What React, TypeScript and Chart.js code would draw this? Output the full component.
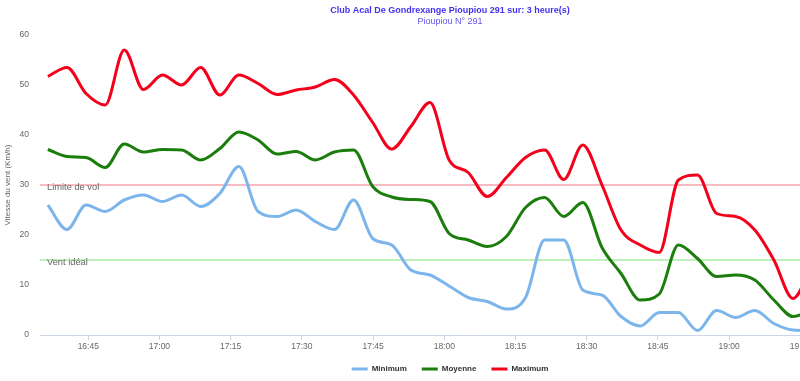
import { useEffect, useRef } from "react";
import { Chart, registerables } from "chart.js";

Chart.register(...registerables);

const FONT = '"Liberation Sans", Arial, Helvetica, sans-serif';

const chartTitle = "Club Acal De Gondrexange Pioupiou 291 sur: 3 heure(s)";
const chartSubtitle = "Pioupiou N° 291";
const yAxisTitle = "Vitesse du vent (Km/h)";

// measurement times (HH:MM:SS)
const times = [
  "16:36:29", "16:40:31", "16:44:32", "16:48:34", "16:52:35", "16:56:37",
  "17:00:38", "17:04:40", "17:08:41", "17:12:43", "17:16:44", "17:20:46",
  "17:24:47", "17:28:49", "17:32:50", "17:36:52", "17:40:53", "17:44:55",
  "17:48:56", "17:52:58", "17:56:59", "18:01:01", "18:05:02", "18:09:04",
  "18:13:05", "18:17:07", "18:21:08", "18:25:10", "18:29:11", "18:33:13",
  "18:37:14", "18:41:16", "18:45:17", "18:49:19", "18:53:20", "18:57:22",
  "19:01:23", "19:05:25", "19:09:26", "19:13:28", "19:17:29",
];

const minimum = [
  26, 21.1, 26, 24.7, 27, 28, 26.7, 28, 25.7, 28.3, 33.7, 24.7,
  23.7, 25, 22.7, 21.1, 27, 19.3, 18, 13, 12, 9.8, 7.5, 6.7,
  5.2, 7.5, 19, 19, 9, 8, 3.7, 1.8, 4.5, 4.5, 0.9, 4.9,
  3.5, 4.9, 2.3, 1, 0.9,
];

const moyenne = [
  37.1, 35.7, 35.5, 33.5, 38.2, 36.6, 37.1, 37, 35, 37.3, 40.6, 39,
  36.2, 36.7, 35, 36.6, 37, 29.7, 27.6, 27.1, 26.7, 20.3, 19, 17.7,
  19.7, 25.5, 27.5, 23.7, 26.5, 17.5, 12.3, 7, 8.2, 18, 15.3, 11.7,
  12, 11, 7, 3.7, 5,
];

const maximum = [
  51.7, 53.5, 48.3, 46, 57, 49.1, 52, 50, 53.5, 48, 52, 50.3,
  48.1, 49, 49.6, 51.1, 48, 42.5, 37.2, 41.7, 46.5, 35, 32.5, 27.7,
  31.5, 35.5, 37, 31.1, 38, 30, 21, 18, 16.5, 31, 32, 24.3,
  23.7, 21, 15, 7.3, 14,
];

const xTickLabels = [
  "16:45", "17:00", "17:15", "17:30", "17:45", "18:00", "18:15",
  "18:30", "18:45", "19:00", "19:15", "19:30",
];
const yTickValues = [0, 10, 20, 30, 40, 50, 60];

const xRangeStart = "16:34:50";
const xRangeEnd = "19:36:00";

const plotLines = [
  { value: 30, label: "Limite de vol", color: "#f9a3ac" },
  { value: 15, label: "Vent idéal", color: "#a9eca2" },
];

const seriesColors = {
  minimum: "#7cb5ec",
  moyenne: "#1b7d0c",
  maximum: "#f5001c",
};

function toMin(t: string): number {
  const p = t.split(":").map(Number);
  return p[0] * 60 + p[1] + (p[2] || 0) / 60;
}

function fmt(v: number): string {
  const m = Math.round(v);
  const h = Math.floor(m / 60);
  const mm = m % 60;
  return `${String(h).padStart(2, "0")}:${String(mm).padStart(2, "0")}`;
}

const plotLinePlugin = {
  id: "plotLines",
  beforeDatasetsDraw(chart: any) {
    const { ctx, chartArea, scales } = chart;
    const y = scales.y;
    plotLines.forEach((pl) => {
      const py = y.getPixelForValue(pl.value);
      ctx.save();
      ctx.strokeStyle = pl.color;
      ctx.lineWidth = 1.5;
      ctx.beginPath();
      ctx.moveTo(chartArea.left, py);
      ctx.lineTo(chartArea.right, py);
      ctx.stroke();
      ctx.fillStyle = "#666666";
      ctx.font = `9.3px ${FONT}`;
      ctx.textBaseline = "middle";
      ctx.textAlign = "left";
      ctx.fillText(pl.label, chartArea.left + 7, py + 2.5);
      ctx.restore();
    });
  },
};

export default function App() {
  const ref = useRef<HTMLCanvasElement | null>(null);

  useEffect(() => {
    document.body.style.overflow = "hidden";
    const canvas = ref.current;
    if (!canvas) return;
    Chart.defaults.font.family = FONT;

    const mk = (label: string, values: number[], color: string) => ({
      label,
      data: times.map((t, i) => ({ x: toMin(t), y: values[i] })),
      borderColor: color,
      backgroundColor: color,
      borderWidth: 3,
      pointRadius: 0,
      pointHoverRadius: 0,
      cubicInterpolationMode: "monotone" as const,
      fill: false,
    });

    const chart = new Chart(canvas, {
      type: "line",
      data: {
        datasets: [
          mk("Minimum", minimum, seriesColors.minimum),
          mk("Moyenne", moyenne, seriesColors.moyenne),
          mk("Maximum", maximum, seriesColors.maximum),
        ],
      },
      options: {
        animation: false,
        responsive: false,
        maintainAspectRatio: false,
        layout: { padding: { top: 0, left: 0, right: 0, bottom: -2 } },
        plugins: {
          title: {
            display: true,
            text: chartTitle,
            color: "#4433ee",
            font: { family: FONT, size: 9, weight: "bold" },
            padding: { top: 5, bottom: 0 },
          },
          subtitle: {
            display: true,
            text: chartSubtitle,
            color: "#6655ee",
            font: { family: FONT, size: 9 },
            padding: { top: 0, bottom: 8.4 },
          },
          legend: {
            position: "bottom",
            labels: {
              usePointStyle: true,
              pointStyle: "line",
              pointStyleWidth: 16,
              padding: 15,
              color: "#333333",
              font: { family: FONT, size: 8, weight: "bold" },
            },
          },
          tooltip: { enabled: false },
        },
        scales: {
          x: {
            type: "linear",
            min: toMin(xRangeStart),
            max: toMin(xRangeEnd),
            afterBuildTicks: (s: any) => {
              s.ticks = xTickLabels.map((t) => ({ value: toMin(t) }));
            },
            afterFit: (s: any) => {
              s.height = 15;
            },
            ticks: {
              callback: (v: any) => fmt(Number(v)),
              color: "#666666",
              font: { family: FONT, size: 8.5 },
              padding: 2,
              maxRotation: 0,
              autoSkip: false,
            },
            grid: {
              drawOnChartArea: false,
              drawTicks: true,
              tickLength: 5,
              color: "#ccd6eb",
            },
            border: { color: "#ccd6eb" },
          },
          y: {
            min: 0,
            max: 60,
            afterBuildTicks: (s: any) => {
              s.ticks = yTickValues.map((v) => ({ value: v }));
            },
            afterFit: (s: any) => {
              s.width = 40;
            },
            ticks: {
              color: "#666666",
              font: { family: FONT, size: 8.5 },
              padding: 11,
            },
            grid: { display: false, drawTicks: false },
            border: { display: false },
            title: {
              display: true,
              text: yAxisTitle,
              color: "#666666",
              font: { family: FONT, size: 8 },
              padding: { top: 3, bottom: 0 },
            },
          },
        },
      },
      plugins: [plotLinePlugin],
    });

    return () => chart.destroy();
  }, []);

  return (
    <div style={{ position: "absolute", left: 0, top: 0, width: 900, height: 381 }}>
      <canvas ref={ref} width={900} height={381} style={{ width: 900, height: 381, display: "block" }} />
    </div>
  );
}
